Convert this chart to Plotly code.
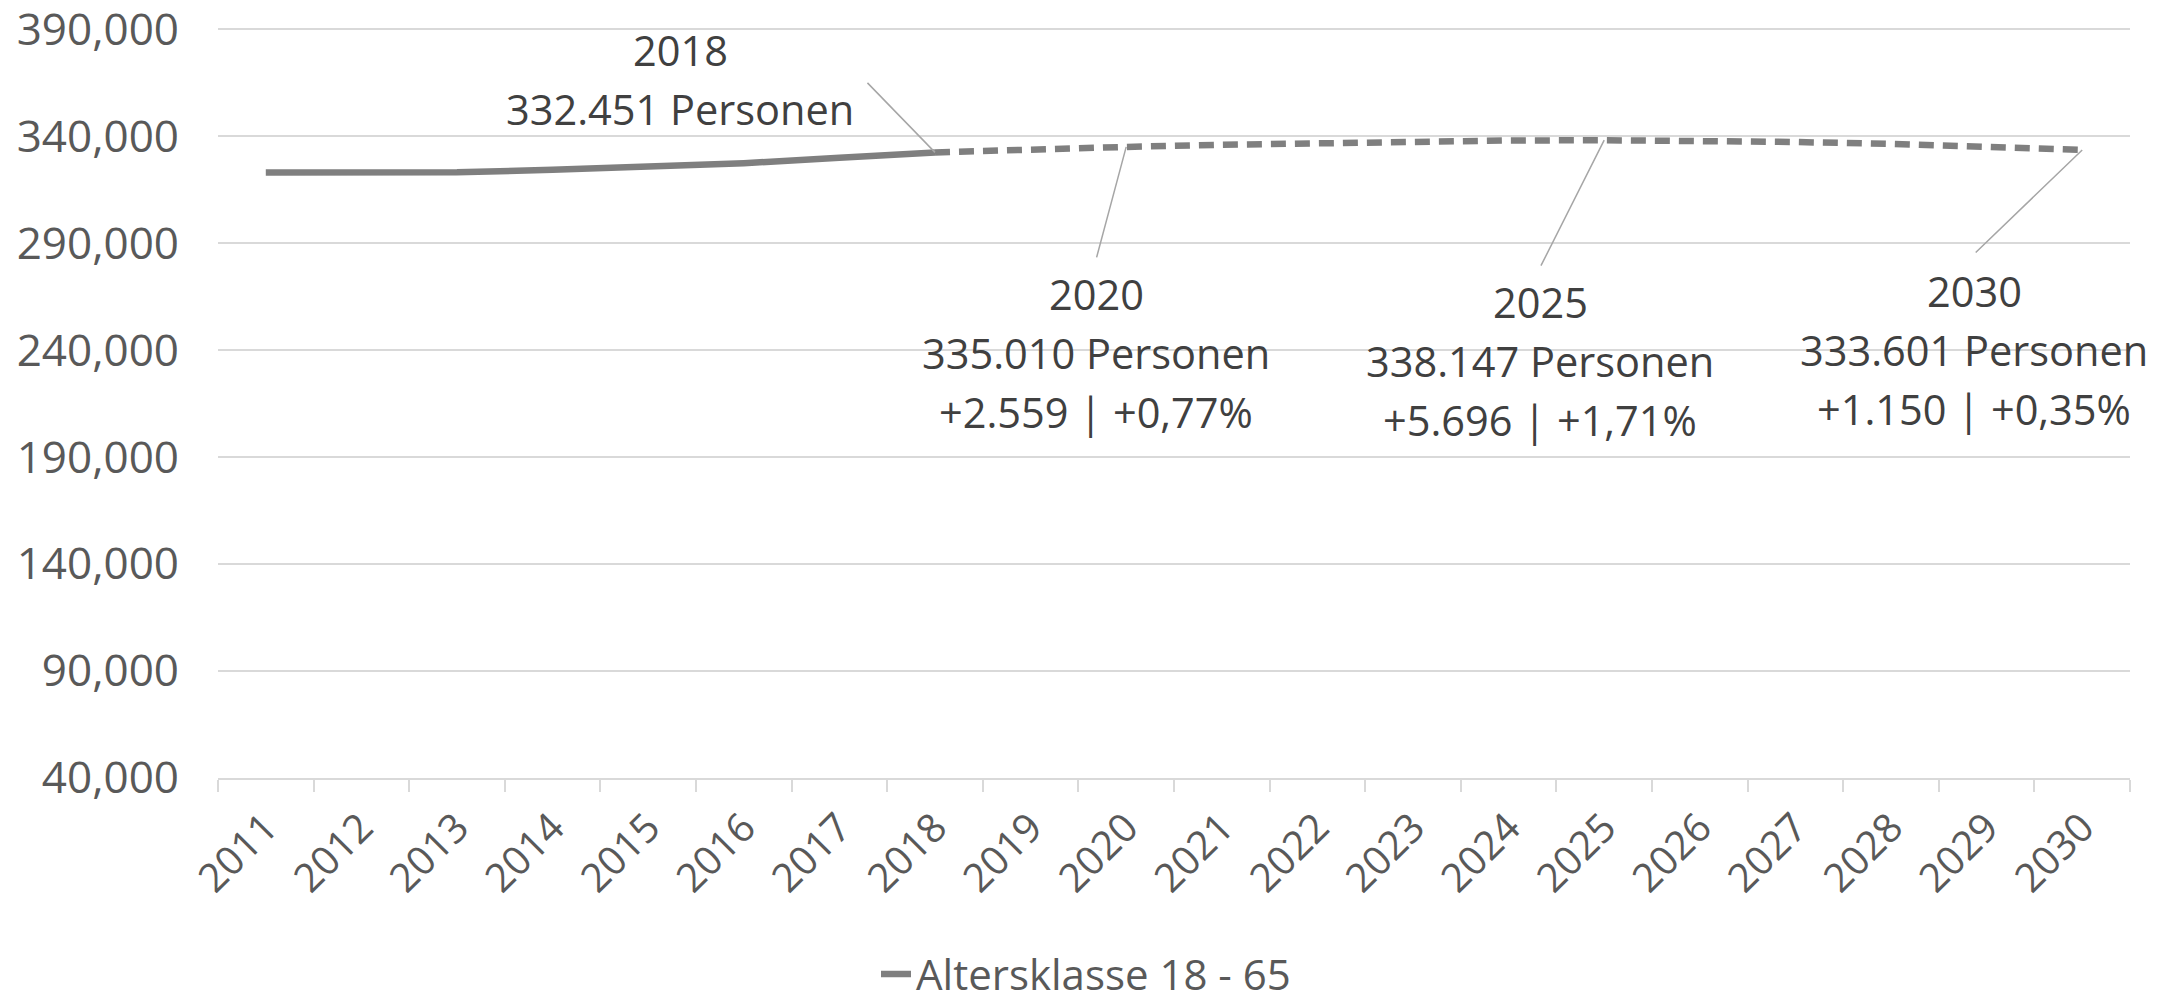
import plotly.graph_objects as go

years = [str(y) for y in range(2011, 2031)]
einwohner = [323100, 323300, 323200, 324300, 325500, 327400, 329900, 332451,
             333900, 335010, 336000, 336900, 337600, 338000, 338147, 337900,
             337300, 336400, 335100, 333601]

ist_years = years[:8]
ist_werte = einwohner[:8]
prog_years = years[7:]
prog_werte = einwohner[7:]

label_years = ["2018", "2020", "2025", "2030"]
label_lines = [
    ["2018", "332.451 Personen"],
    ["2020", "335.010 Personen", "+2.559 | +0,77%"],
    ["2025", "338.147 Personen", "+5.696 | +1,71%"],
    ["2030", "333.601 Personen", "+1.150 | +0,35%"],
]

GRAU = "#7f7f7f"
FONT = "Open Sans"

fig = go.Figure()
fig.add_trace(go.Scatter(
    x=ist_years, y=ist_werte, mode="lines",
    line=dict(color=GRAU, width=6.5),
    name="Altersklasse 18 - 65"
))
fig.add_trace(go.Scatter(
    x=prog_years, y=prog_werte, mode="lines",
    line=dict(color=GRAU, width=6.5, dash="15px,9px"),
    showlegend=False
))

# leader lines (ax/ay), label x offset and first-line y offset, in pixels
leader = {"2018": (-69, -71), "2020": (-30, 112), "2025": (-64, 127), "2030": (-108, 104)}
shift = {"2018": (-255, 102), "2020": (-30, -147), "2025": (-64, -162), "2030": (-108, -141)}
zeilenabstand = 59

for yr, lines in zip(label_years, label_lines):
    i = years.index(yr)  # category axis: annotations use the category index
    val = einwohner[i]
    ax, ay = leader[yr]
    fig.add_annotation(
        x=i, y=val, text="", showarrow=True, arrowhead=0,
        arrowwidth=1.5, arrowcolor="#a6a6a6", ax=ax, ay=ay
    )
    xs, ys = shift[yr]
    for k, line in enumerate(lines):
        fig.add_annotation(
            x=i, y=val, text=line, showarrow=False,
            xshift=xs, yshift=ys - k * zeilenabstand,
            font=dict(family=FONT, size=41.5, color="#404040")
        )

fig.add_annotation(
    x=-0.067, y=-0.273, xref="paper", yref="paper",
    text="research", showarrow=False, xanchor="right", yanchor="top",
    font=dict(family=FONT, size=32, color="#c0392b")
)

fig.update_layout(
    width=2172, height=992,
    margin=dict(l=218, r=42, t=28, b=214, autoexpand=False),
    plot_bgcolor="white", paper_bgcolor="white",
    font=dict(family=FONT, color="#595959"),
    legend=dict(
        orientation="h", xref="container", yref="container",
        x=0.5, xanchor="center", y=0.018, yanchor="middle",
        font=dict(family=FONT, size=42, color="#595959")
    )
)
fig.update_xaxes(
    type="category", range=[-0.5, 19.5], tickangle=-45, tickson="boundaries",
    ticks="outside", ticklen=12, tickwidth=2, tickcolor="#d9d9d9",
    showline=True, linecolor="#d9d9d9", linewidth=2, ticklabelstandoff=8,
    showgrid=False, tickfont=dict(family=FONT, size=40, color="#595959")
)
fig.update_yaxes(
    range=[40000, 390600], tick0=40000, dtick=50000, tickformat=",",
    showgrid=True, gridcolor="#d9d9d9", gridwidth=2, zeroline=False,
    ticklabelstandoff=38, ticklabeloverflow="allow",
    tickfont=dict(family=FONT, size=44, color="#595959")
)

fig.write_html("out.html", config={"displayModeBar": False},
               post_script="document.body.style.margin='0';")
